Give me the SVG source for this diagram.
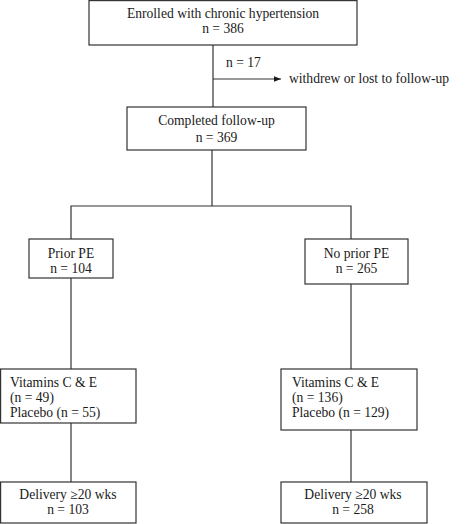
<svg xmlns="http://www.w3.org/2000/svg" width="474" height="524" viewBox="0 0 474 524">
<defs>
<style>
.box{fill:#fff;stroke:#333;stroke-width:1.2}
.ln{fill:none;stroke:#333;stroke-width:1.2}
text{font-family:"Liberation Serif","Times New Roman",serif;font-size:13.6px;fill:#1a1a1a}
.c{text-anchor:middle}
</style>
<marker id="ah" viewBox="0 0 10 10" refX="10" refY="5" markerWidth="7" markerHeight="7" orient="auto" markerUnits="userSpaceOnUse">
<path d="M0,1 L10,5 L0,9 z" fill="#1a1a1a"/>
</marker>
</defs>
<g id="connectors">
<line class="ln" x1="213" y1="45" x2="213" y2="107"/>
<line class="ln" x1="213" y1="79" x2="281" y2="79" marker-end="url(#ah)"/>
<line class="ln" x1="212" y1="150" x2="212" y2="206"/>
<polyline class="ln" points="71,239 71,206 351,206 351,239"/>
<line class="ln" x1="71" y1="278" x2="71" y2="369"/>
<line class="ln" x1="351" y1="284" x2="351" y2="369"/>
<line class="ln" x1="71" y1="423" x2="71" y2="482"/>
<line class="ln" x1="351" y1="430" x2="351" y2="482"/>
<text x="226" y="67">n = 17</text>
<text x="289" y="83">withdrew or lost to follow-up</text>
</g>
<g id="enrolled">
<rect class="box" x="89" y="0.6" width="268" height="44.4"/>
<text class="c" x="223" y="18">Enrolled with chronic hypertension</text>
<text class="c" x="223" y="33">n = 386</text>
</g>
<g id="completed">
<rect class="box" x="127" y="107" width="179" height="43"/>
<text class="c" x="216.5" y="125">Completed follow-up</text>
<text class="c" x="216.5" y="142">n = 369</text>
</g>
<g id="prior">
<rect class="box" x="29" y="239" width="84" height="39"/>
<text class="c" x="71" y="258">Prior PE</text>
<text class="c" x="71" y="273">n = 104</text>
</g>
<g id="noprior">
<rect class="box" x="305" y="239" width="103" height="45"/>
<text class="c" x="356.5" y="258">No prior PE</text>
<text class="c" x="356.5" y="273">n = 265</text>
</g>
<g id="vit-left">
<rect class="box" x="0.6" y="369" width="135.4" height="54"/>
<text x="10" y="387">Vitamins C &amp; E</text>
<text x="10" y="402">(n = 49)</text>
<text x="10" y="417">Placebo (n = 55)</text>
</g>
<g id="vit-right">
<rect class="box" x="281" y="369" width="136" height="61"/>
<text x="292" y="387">Vitamins C &amp; E</text>
<text x="292" y="402">(n = 136)</text>
<text x="292" y="417">Placebo (n = 129)</text>
</g>
<g id="del-left">
<rect class="box" x="0.6" y="482" width="135.4" height="41"/>
<text class="c" x="68" y="499">Delivery ≥20 wks</text>
<text class="c" x="68" y="514">n = 103</text>
</g>
<g id="del-right">
<rect class="box" x="281" y="482" width="146" height="41"/>
<text class="c" x="353" y="499">Delivery ≥20 wks</text>
<text class="c" x="353" y="514">n = 258</text>
</g>
</svg>
